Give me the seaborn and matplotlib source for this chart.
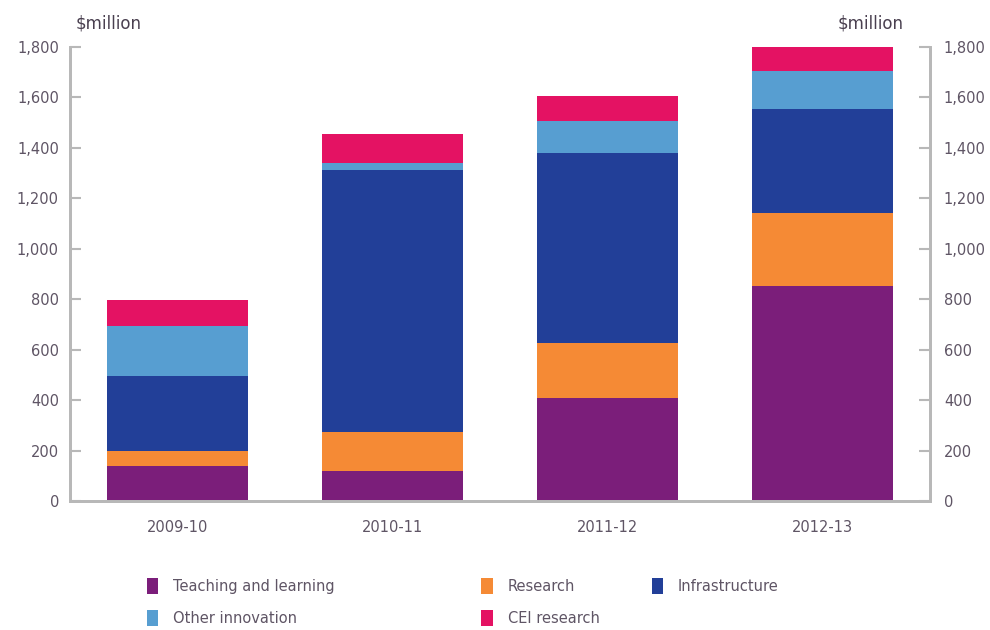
import numpy as np
import pandas as pd
import matplotlib
matplotlib.use("Agg")
import matplotlib.pyplot as plt
import seaborn as sns
from matplotlib.patches import Patch

years = ["2009-10", "2010-11", "2011-12", "2012-13"]
teaching = [140, 118, 410, 853]
research = [60, 156, 218, 289]
infrastructure = [295, 1037, 750, 411]
other_innovation = [200, 31, 129, 152]
cei_research = [100, 115, 99, 98]

series_names = ["Teaching and learning", "Research", "Infrastructure",
                "Other innovation", "CEI research"]
colours = ["#7B1E7A", "#F58A35", "#223F98", "#579ED1", "#E41263"]

sns.set_style("white")
plt.rcParams['font.family'] = ['Liberation Sans Narrow', 'DejaVu Sans']
txt = "#5f5565"
grey = "#b8b8b8"

a = pd.DataFrame({
    "year": years,
    series_names[0]: teaching,
    series_names[1]: research,
    series_names[2]: infrastructure,
    series_names[3]: other_innovation,
    series_names[4]: cei_research,
})
cum = a[series_names].cumsum(axis=1)

fig = plt.figure(figsize=(9.9, 6.3), dpi=100)
ax = fig.add_axes([0.0707, 0.2048, 0.8687, 0.7206])

# draw tallest stack first so lower segments sit on top
for name, col in reversed(list(zip(series_names, colours))):
    sns.barplot(x=a["year"], y=cum[name], color=col, width=0.66,
                saturation=1, ax=ax, edgecolor="none")

ax.set_xlim(-0.5, 3.5)
ax.set_ylim(0, 1800)
ticks = np.arange(0, 1801, 200)
ax.set_yticks(ticks)
ax.set_yticklabels([f"{t:,}" for t in ticks])
ax.set_xlabel("")
ax.set_ylabel("")
ax.set_xticks(range(4))
ax.set_xticklabels(years)
ax.set_xticks([0.5, 1.5, 2.5], minor=True)
ax.tick_params(axis="x", which="major", length=0, pad=14, labelsize=10.5, labelcolor=txt)
ax.tick_params(axis="x", which="minor", direction="in", length=10, width=2, color=grey)
ax.tick_params(axis="y", direction="in", length=8, width=1.5, color=grey,
               labelsize=10.5, labelcolor=txt, pad=8)

ax2 = ax.twinx()
ax2.set_ylim(0, 1800)
ax2.set_yticks(ticks)
ax2.set_yticklabels([f"{t:,}" for t in ticks])
ax2.tick_params(axis="y", direction="in", length=8, width=1.5, color=grey,
                labelsize=10.5, labelcolor=txt, pad=10)

for axis in (ax, ax2):
    axis.spines["top"].set_visible(False)
    for s in ("left", "right", "bottom"):
        axis.spines[s].set_color(grey)
        axis.spines[s].set_linewidth(2)

fig.text(0.076, 0.955, "$million", fontsize=12, color="#4a4050")
fig.text(0.913, 0.955, "$million", fontsize=12, color="#4a4050", ha="right")

# legend: three columns at uneven positions, filled row by row
legend_cols = [([0, 3], 0.135), ([1, 4], 0.473), ([2], 0.645)]
for idx, xpos in legend_cols:
    hs = [Patch(facecolor=colours[i], edgecolor="none") for i in idx]
    fig.legend(hs, [series_names[i] for i in idx], loc="upper left",
               bbox_to_anchor=(xpos, 0.103),
               ncol=1, frameon=False, fontsize=10.5, labelcolor=txt,
               handlelength=0.8, handleheight=1.3, labelspacing=1.1,
               handletextpad=1.0)

fig.savefig("out.png", dpi=100)
